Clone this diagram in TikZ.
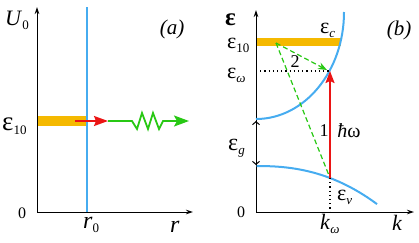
\documentclass[tikz,border=0pt]{standalone}
\usepackage{fontspec}
\setmainfont{Liberation Serif}
\usetikzlibrary{arrows.meta}
\definecolor{bandblue}{RGB}{70,172,240}
\definecolor{barorange}{RGB}{245,185,0}
\definecolor{arrred}{RGB}{235,20,20}
\definecolor{arrgreen}{RGB}{40,200,20}
\newcommand{\fs}[1]{\fontsize{#1}{#1}\selectfont}
\newcommand{\sbs}[1]{\raisebox{-4pt}{\fs{13}#1}}
\begin{document}
\begin{tikzpicture}[x=1pt,y=-1pt,
  axis/.style={line width=1pt,-{Stealth[length=7pt,width=4.5pt]}},
  band/.style={bandblue,line width=2pt},
  lab/.style={inner sep=0pt,anchor=base west},
  dotline/.style={line width=1.2pt,dash pattern=on 1.2pt off 3pt},
  gdash/.style={arrgreen,line width=1.2pt,dash pattern=on 5pt off 3pt}]
\useasboundingbox (0,0) rectangle (419,242);
% ---------- panel (a)
\coordinate (oa) at (37,212);
\coordinate (ya) at (37,7);
\coordinate (xa) at (193,212);
\fill[barorange] (37,116) rectangle (87,126);
\draw[axis] (oa) -- (ya);
\draw[axis] (oa) -- (xa);
\coordinate (wt) at (87,7);
\coordinate (wb) at (87,212);
\draw[band] (wt) -- (wb);
\coordinate (ra) at (75,121);
\coordinate (rb) at (108,121);
\coordinate (ge) at (189,121);
\draw[arrred,line width=1.8pt,-{Stealth[length=14pt,width=10pt,inset=2pt]}] (ra) -- (rb);
\draw[arrgreen,line width=1.8pt,-{Stealth[length=15pt,width=11pt,inset=3pt]}]
  (rb) -- (132,121) -- (137,129) -- (142,113) -- (148,129) -- (153,113) -- (159,129) -- (163,121) -- (ge);
\node[lab] (U0) at (5,25) {\fs{22}\textit{U}\sbs{0}};
\node[inner sep=0pt] (pa) at (172,29) {\fs{21}\textit{(a)}};
\node[lab] (e10a) at (2,130) {\fs{27}ε\sbs{10}};
\node[inner sep=0pt] (za) at (22,213) {\fs{16}0};
\node[lab] (r0) at (83,228) {\fs{24}\textit{r}\sbs{0}};
\node[lab] (ra2) at (170,232) {\fs{24}\textit{r}};
% ---------- panel (b)
\coordinate (ob) at (256,212);
\coordinate (yb) at (256,10);
\coordinate (xb) at (414,212);
\fill[barorange] (256,38) rectangle (340.5,46);
\draw[axis] (ob) -- (yb);
\draw[axis] (ob) -- (xb);
\coordinate (cb) at (256,119);
\draw[band] (cb) arc[start angle=90,end angle=0,x radius=88,y radius=107];
\draw[band] plot[domain=0.5:121,samples=50] ({256+\x},{166+12*(\x/74)^2.35});
\coordinate (vk) at (330,178);
\coordinate (ck) at (330,71);
\coordinate (kb) at (330,212);
\coordinate (ew) at (256,71);
\coordinate (g0) at (276,43);
\coordinate (g1) at (327,70);
\draw[dotline] (ew) -- (ck);
\draw[dotline] (vk) -- (kb);
\draw[gdash] (g0) -- (vk);
\draw[gdash,-{Stealth[length=9pt,width=7pt]}] (g0) -- (g1);
\draw[arrred,line width=1.8pt,-{Stealth[length=12pt,width=9pt,inset=2pt]}] (vk) -- (ck);
\coordinate (gt) at (256,121);
\coordinate (gb) at (256,165);
\draw[line width=1pt,{Straight Barb[length=3pt,width=7pt]}-{Straight Barb[length=3pt,width=7pt]}] (gt) -- (gb);
\node[lab] (eps) at (225,25) {\fs{25}\bfseries ε};
\node[lab] (e10b) at (227,48) {\fs{22}ε\sbs{10}};
\node[lab] (ewl) at (227,78) {\fs{22}ε\sbs{\textit{ω}}};
\node[lab] (ec) at (320,33) {\fs{22}ε\sbs{\textit{c}}};
\node[inner sep=0pt] (pb) at (399,30) {\fs{21}\textit{(b)}};
\node[inner sep=0pt] (n2) at (295,62) {\fs{18}2};
\node[inner sep=0pt] (n1) at (324,131) {\fs{18}1};
\node[inner sep=0pt] (hw) at (349,131) {\fs{20}\textit{ħ}ω};
\node[lab] (eg) at (228,150) {\fs{24}ε\sbs{\textit{g}}};
\node[lab] (ev) at (337,200) {\fs{22}ε\sbs{\textit{ν}}};
\node[inner sep=0pt] (zb) at (241,212) {\fs{16}0};
\node[lab] (kw) at (320,229) {\fs{22}\textit{k}\sbs{\textit{ω}}};
\node[lab] (kl) at (392,230) {\fs{22}\textit{k}};
\end{tikzpicture}
\end{document}
